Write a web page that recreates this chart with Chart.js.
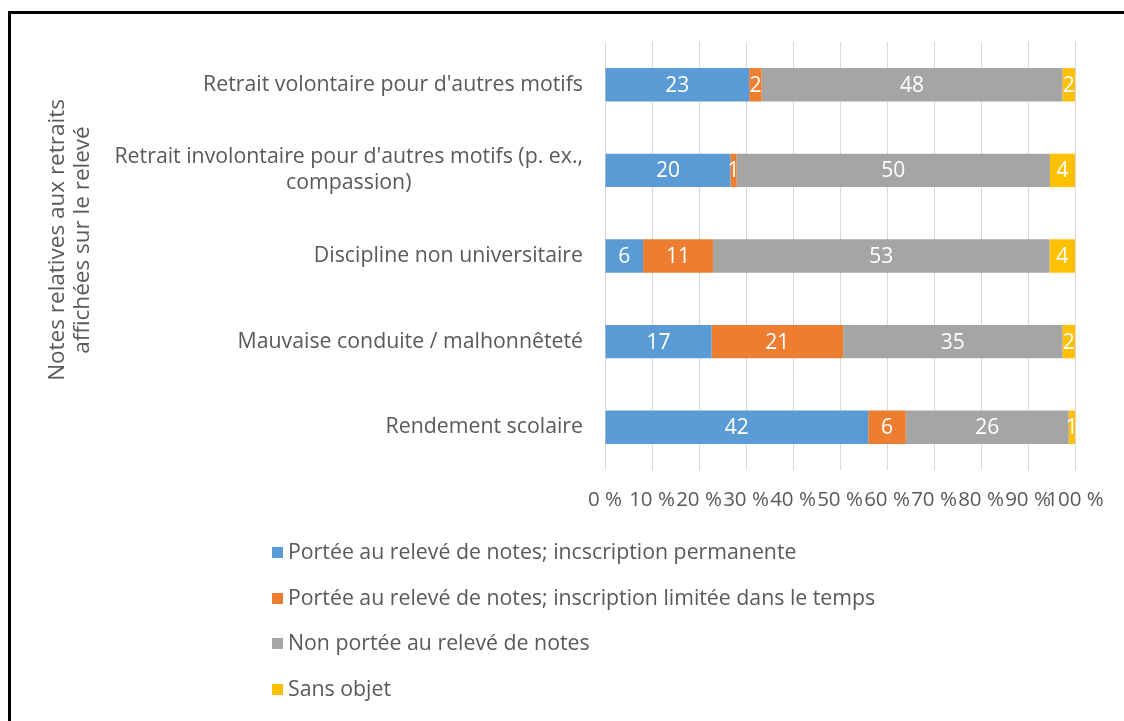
<!DOCTYPE html>
<html>
<head>
<meta charset="utf-8">
<script src="https://cdn.jsdelivr.net/npm/chart.js@4.4.1/dist/chart.umd.min.js"></script>
<style>
  body { margin: 0; background: #fff; font-family: "Open Sans", sans-serif; }
  #wrap { position: relative; width: 1124px; height: 721px; overflow: hidden; }
  #frame { position: absolute; left: 8px; top: 11px; right: -10px; bottom: -10px;
           border-top: 3px solid #000; border-left: 3px solid #000; }
  canvas { position: absolute; left: 0; top: 0; }
  #legend { position: absolute; left: 272px; top: 537px; color: #595959; font-size: 21.3px; }
  #legend div { height: 45.5px; line-height: 28px; white-space: nowrap; }
  #legend span.sw { display: inline-block; width: 11px; height: 11px; margin-right: 5px; vertical-align: 1px; }
</style>
</head>
<body>
<div id="wrap">
  <div id="frame"></div>
  <canvas id="myChart" width="1124" height="721"></canvas>
  <div id="legend"></div>
</div>
<script>
// categories, top to bottom
var categories = [
  "Retrait volontaire pour d'autres motifs",
  ["Retrait involontaire pour d'autres motifs (p. ex.,", "compassion)"],
  "Discipline non universitaire",
  "Mauvaise conduite / malhonnêteté",
  "Rendement scolaire"
];
var seriesNames = [
  "Portée au relevé de notes; incscription permanente",
  "Portée au relevé de notes; inscription limitée dans le temps",
  "Non portée au relevé de notes",
  "Sans objet"
];
var permanente = [23, 20, 6, 17, 42];
var limitee = [2, 1, 11, 21, 6];
var nonPortee = [48, 50, 53, 35, 26];
var sansObjet = [2, 4, 4, 2, 1];
var xTicks = [0, 10, 20, 30, 40, 50, 60, 70, 80, 90, 100];
var yTitle = ['Notes relatives aux retraits', 'affichées sur le relevé'];
var colors = ['#5B9BD5', '#ED7D31', '#A5A5A5', '#FFC000'];

var raw = [permanente, limitee, nonPortee, sansObjet];
var totals = categories.map(function (c, i) {
  return permanente[i] + limitee[i] + nonPortee[i] + sansObjet[i];
});

var datasets = raw.map(function (vals, k) {
  return {
    label: seriesNames[k],
    data: vals.map(function (v, i) { return v / totals[i] * 100; }),
    counts: vals,
    backgroundColor: colors[k],
    borderWidth: 0,
    categoryPercentage: 1,
    barPercentage: 0.39
  };
});

var FONT = '"Open Sans", sans-serif';

// white numbers inside the bars
var barLabels = {
  id: 'barLabels',
  afterDatasetsDraw: function (chart) {
    var ctx = chart.ctx;
    ctx.save();
    ctx.font = '21px ' + FONT;
    ctx.fillStyle = '#fff';
    ctx.textAlign = 'center';
    ctx.textBaseline = 'middle';
    chart.data.datasets.forEach(function (ds, k) {
      chart.getDatasetMeta(k).data.forEach(function (bar, i) {
        var x = (bar.x + bar.base) / 2;
        ctx.fillText(String(ds.counts[i]), x, bar.y + 1);
      });
    });
    ctx.restore();
  }
};

// category labels (lines centred on each other, block right-aligned) and axis title
var catLabels = {
  id: 'catLabels',
  afterDraw: function (chart) {
    var ctx = chart.ctx;
    var y = chart.scales.y;
    ctx.save();
    ctx.font = '21.3px ' + FONT;
    ctx.fillStyle = '#595959';
    ctx.textAlign = 'center';
    ctx.textBaseline = 'middle';
    var right = y.right - 22;
    categories.forEach(function (c, i) {
      var lines = Array.isArray(c) ? c : [c];
      var w = Math.max.apply(null, lines.map(function (l) { return ctx.measureText(l).width; }));
      var cy = y.getPixelForValue(i);
      var lh = 26;
      lines.forEach(function (l, j) {
        ctx.fillText(l, right - w / 2, cy + (j - (lines.length - 1) / 2) * lh);
      });
    });
    // rotated axis title
    ctx.font = '22.5px ' + FONT;
    ctx.translate(70, 240);
    ctx.rotate(-Math.PI / 2);
    yTitle.forEach(function (l, j) {
      ctx.fillText(l, 0, (j - 0.5) * 25);
    });
    ctx.restore();
  }
};

var ctx = document.getElementById('myChart').getContext('2d');
var myChart = new Chart(ctx, {
  type: 'bar',
  data: { labels: categories, datasets: datasets },
  plugins: [barLabels, catLabels],
  options: {
    indexAxis: 'y',
    responsive: false,
    animation: false,
    layout: { padding: { top: 42, right: 49, bottom: 191, left: 44 } },
    plugins: { legend: { display: false }, tooltip: { enabled: false } },
    scales: {
      x: {
        stacked: true,
        min: 0, max: 100,
        afterFit: function (s) { s.height = 60; },
        afterBuildTicks: function (s) { s.ticks = xTicks.map(function (v) { return { value: v }; }); },
        grid: { color: '#D9D9D9', drawTicks: false },
        border: { display: false },
        ticks: {
          autoSkip: false, maxRotation: 0, padding: 18,
          color: '#595959', font: { family: FONT, size: 20.5 },
          callback: function (v) { return v + ' %'; }
        }
      },
      y: {
        stacked: true,
        afterFit: function (s) { s.width = 561; },
        grid: { display: false, drawTicks: false },
        border: { display: false },
        ticks: { display: false }
      }
    }
  }
});

// legend as a vertical list
var leg = document.getElementById('legend');
seriesNames.forEach(function (n, k) {
  var d = document.createElement('div');
  var sw = document.createElement('span');
  sw.className = 'sw';
  sw.style.background = colors[k];
  d.appendChild(sw);
  d.appendChild(document.createTextNode(n));
  leg.appendChild(d);
});
</script>
</body>
</html>
